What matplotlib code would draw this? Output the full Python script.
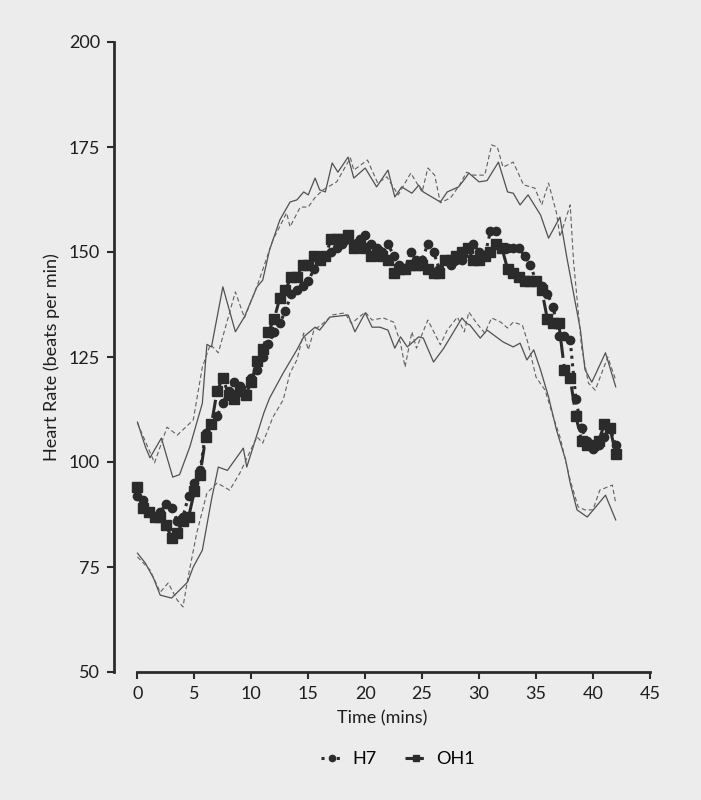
import matplotlib
matplotlib.use("Agg")
import matplotlib.pyplot as plt

# mean heart rate every 0.5 min
time_mins = [i * 0.5 for i in range(85)]
h7_mean = [92, 91, 88, 87, 88, 90, 89, 86, 87, 92,
           95, 98, 107, 109, 111, 114, 117, 119, 118, 116,
           120, 122, 125, 128, 131, 133, 136, 140, 141, 142,
           143, 146, 148, 149, 150, 151, 152, 153, 152, 153,
           154, 152, 151, 150, 152, 149, 147, 146, 150, 148,
           148, 152, 150, 146, 148, 147, 148, 148, 151, 152,
           150, 149, 155, 155, 151, 151, 151, 151, 149, 147,
           143, 142, 140, 137, 130, 130, 129, 115, 108, 105,
           103, 104, 106, 108, 104]
oh1_mean = [94, 89, 88, 87, 87, 85, 82, 83, 86, 87,
            93, 97, 106, 109, 117, 120, 116, 115, 117, 116,
            119, 124, 127, 131, 134, 139, 141, 144, 144, 147,
            147, 149, 148, 149, 153, 153, 153, 154, 151, 152,
            151, 149, 150, 149, 148, 145, 146, 146, 147, 147,
            147, 146, 145, 145, 148, 148, 149, 150, 151, 148,
            148, 149, 150, 152, 151, 146, 145, 144, 143, 143,
            143, 141, 134, 133, 133, 122, 120, 111, 105, 104,
            104, 105, 109, 108, 102]

# +/- SD envelopes
upper_solid_t = [0, 0.7, 1.1, 2.1, 3.1, 3.7, 4.6, 5.7, 6.1, 6.5, 7.5, 8.6, 9.4, 10.5,
                 11.0, 11.6, 12.5, 13.4, 14.0, 14.6, 15.0, 15.6, 16.0, 16.5, 17.1, 17.6,
                 18.5, 19.0, 20.0, 21.0, 22.0, 22.6, 23.2, 24.1, 24.7, 25.1, 26.6, 27.2,
                 28.2, 28.8, 29.1, 30.0, 30.7, 31.7, 32.5, 33.0, 33.6, 34.3, 35.4, 36.1,
                 37.1, 37.7, 38.9, 39.3, 39.9, 41.1, 42.0]
upper_solid = [109.5, 103.6, 101, 105.7, 96.4, 97, 103.6, 114, 128, 127.4, 141.7, 131,
               134.6, 141.7, 143.3, 150.5, 157.6, 161.9, 162.4, 164.3, 163.6, 167.6,
               164.8, 164.3, 171.2, 169, 172.6, 167.6, 170, 165.5, 169.5, 163.1, 165.5,
               164, 165.9, 164.3, 161.9, 164.3, 165.5, 167.6, 168.8, 166.7, 167, 171.4,
               164.3, 164, 161.2, 163.6, 158.8, 153.3, 158.3, 148.8, 131.4, 122, 119,
               126, 117.9]
upper_dash_t = [0, 1.5, 2.6, 3.5, 4.9, 5.7, 6.4, 7.1, 8.6, 9.4, 10.6, 11.9, 13.1, 13.4,
                14.3, 15.0, 15.6, 16.3, 17.5, 18.7, 19.0, 20.2, 21.1, 21.9, 22.9, 24.0,
                25.0, 25.5, 26.1, 26.6, 27.5, 28.3, 28.9, 29.5, 30.5, 31.1, 31.6, 32.1,
                33.0, 33.9, 34.9, 35.5, 36.1, 36.8, 37.1, 38.0, 38.3, 39.0, 39.6, 40.2,
                41.3, 42.0]
upper_dash = [109.3, 99.8, 108.3, 106.4, 110, 122.6, 128, 126, 140.5, 134.3, 142.6,
              152.9, 159.3, 156, 160.7, 160.7, 163, 164.8, 166.7, 172.4, 169.5, 171.9,
              166.4, 167.9, 163.6, 168.8, 164.3, 170, 168.3, 161.7, 162.9, 166, 169,
              168.3, 168.3, 175.5, 175, 170.2, 171.4, 166, 165.2, 161.2, 166.4, 159.3,
              153.6, 161.2, 147.6, 127.4, 118.8, 117.1, 125, 119.5]
lower_solid_t = [0, 0.7, 1.4, 2.0, 3.0, 3.7, 4.4, 4.9, 5.7, 6.5, 7.1, 7.9, 9.3, 9.6,
                 11.1, 11.6, 12.8, 14.0, 14.6, 15.6, 16.0, 16.9, 18.5, 19.1, 20.0, 20.6,
                 21.3, 22.0, 22.6, 23.1, 23.7, 24.7, 25.1, 26.0, 26.9, 27.7, 28.5, 28.9,
                 29.2, 30.1, 30.7, 32.1, 33.0, 33.6, 34.2, 34.8, 35.4, 36.1, 36.8, 37.6,
                 38.0, 38.6, 39.5, 40.4, 41.1, 42.0]
lower_solid = [78.3, 75.9, 72.4, 68.3, 67.6, 69.5, 71.4, 75, 79, 91, 98.8, 98, 103.3,
               98.8, 111.7, 115.2, 121.2, 126.7, 129.8, 132.1, 131.4, 134.5, 135, 131,
               135.5, 132.1, 132.1, 131.4, 127.1, 129.8, 127.4, 129.8, 129.5, 123.8,
               127.1, 130.7, 134.3, 133, 132.6, 129.5, 131.4, 128.6, 127.4, 128.3, 124.3,
               126.7, 121.9, 115.5, 107.6, 100.5, 95, 88.6, 86.9, 89.8, 92.1, 86.2]
lower_dash_t = [0, 1.1, 2.0, 2.7, 3.5, 4.0, 4.4, 5.2, 6.1, 7.0, 8.1, 9.0, 10.5, 11.0,
                11.9, 12.8, 13.4, 14.0, 14.6, 15.0, 15.5, 16.3, 17.1, 18.2, 18.8, 20.0,
                20.6, 21.6, 22.5, 23.1, 23.5, 24.1, 24.5, 25.5, 26.6, 27.2, 28.1, 28.7,
                29.1, 29.8, 30.5, 31.1, 31.9, 32.5, 33.0, 33.8, 34.3, 35.0, 35.8, 36.4,
                37.1, 38.0, 38.7, 39.3, 40.0, 40.6, 41.7, 42.0]
lower_dash = [77.4, 74.3, 69, 71.2, 67.1, 65.5, 71.9, 83, 92.6, 95, 93.3, 97.4, 106,
              104.5, 110.7, 114.8, 121.2, 124.3, 130.7, 126.7, 131.4, 133, 135, 135.5,
              133, 135.7, 133.8, 134.3, 133.3, 128.3, 122.6, 131, 127.1, 133.8, 127.9,
              131.4, 134.5, 131, 135.7, 133, 130.7, 134.3, 133.3, 131.9, 133.3, 132.6,
              128.3, 120.2, 117.1, 111.7, 106, 95.7, 89.3, 88.6, 88.6, 93.3, 94.5, 90.2]

plt.rcParams['font.family'] = ['Lato', 'DejaVu Sans']
bg = "#ececed"
ink = "#2b2b2b"
txt = "#1e1e1e"

fig = plt.figure(figsize=(7.01, 8.0), dpi=100, facecolor=bg)
ax = fig.add_axes([0.1626, 0.16, 0.7645, 0.7875], facecolor=bg)

ax.plot(upper_solid_t, upper_solid, "-", color="#505050", lw=0.9)
ax.plot(upper_dash_t, upper_dash, "--", color="#606060", lw=0.8, dashes=(4, 2.5))
ax.plot(lower_solid_t, lower_solid, "-", color="#505050", lw=0.9)
ax.plot(lower_dash_t, lower_dash, "--", color="#606060", lw=0.8, dashes=(4, 2.5))

ax.plot(time_mins, h7_mean, linestyle=(0, (1, 1.5)), lw=2.2, color=ink,
        marker="o", markersize=6, label="H7")
ax.plot(time_mins, oh1_mean, linestyle=(0, (6, 2)), lw=2.2, color=ink,
        marker="s", markersize=6.5, label="OH1")

ax.set_xlim(-2.06, 45)
ax.set_ylim(50, 200)
ax.set_xticks(range(0, 46, 5))
ax.set_yticks(range(50, 201, 25))
ax.spines["top"].set_visible(False)
ax.spines["right"].set_visible(False)
ax.spines["bottom"].set_bounds(0, 45)
ax.spines["left"].set_bounds(50, 200)
for s in ("left", "bottom"):
    ax.spines[s].set_linewidth(2)
    ax.spines[s].set_color(ink)
ax.tick_params(direction="out", length=5, width=1.5, color=ink,
               labelsize=13, labelcolor=txt, pad=5)
ax.set_xlabel("Time (mins)", fontsize=13, color=txt, labelpad=6)
ax.set_ylabel("Heart Rate (beats per min)", fontsize=13, color=txt, labelpad=6)

ax.legend(loc="upper center", bbox_to_anchor=(0.53, -0.1), ncol=2, frameon=False,
          fontsize=13, handlelength=1.2, columnspacing=1.6, handletextpad=0.5,
          markerscale=0.75)

fig.savefig("out.png", dpi=100, facecolor=bg)
